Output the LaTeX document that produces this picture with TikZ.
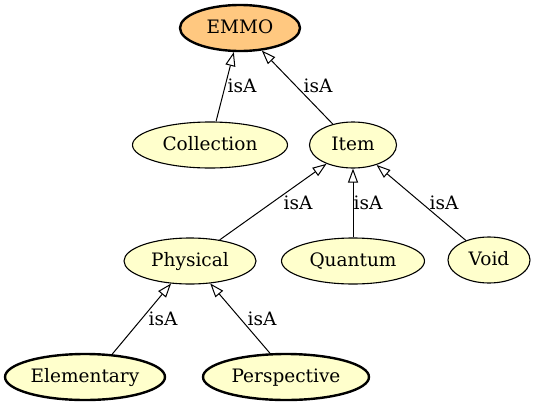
\documentclass[tikz,border=0pt]{standalone}
\usepackage{fontspec}
\setmainfont{DejaVu Serif}
\usetikzlibrary{shapes.geometric,arrows.meta}
\definecolor{emmofill}{HTML}{FFC880}
\definecolor{classfill}{HTML}{FFFFCC}
\tikzset{
  x=1pt,y=-1pt,
  cls/.style={ellipse,draw=black,fill=classfill,line width=1.1pt,inner sep=0pt,
    font=\fontsize{18.5}{20}\selectfont,text height=14pt,text depth=3pt},
  boldcls/.style={cls,line width=2.4pt},
  lbl/.style={font=\fontsize{18.5}{20}\selectfont,inner sep=0pt,text height=14pt,text depth=0pt},
  isa/.style={draw=black,line width=1pt,-{Triangle[open,length=14pt,width=10pt]}}
}
\begin{document}
\begin{tikzpicture}
\useasboundingbox (0,0) rectangle (535,407);
\node[boldcls,fill=emmofill,minimum width=120pt,minimum height=46pt] (emmo) at (240,28) {EMMO};
\node[cls,minimum width=155pt,minimum height=46pt] (collection) at (210,145) {Collection};
\node[cls,minimum width=87pt,minimum height=46pt] (item) at (353,145) {Item};
\node[cls,minimum width=132pt,minimum height=46pt] (physical) at (190,261) {Physical};
\node[cls,minimum width=143pt,minimum height=46pt] (quantum) at (353,261) {Quantum};
\node[cls,minimum width=82pt,minimum height=46pt] (void) at (489,260) {Void};
\node[boldcls,minimum width=160pt,minimum height=46pt] (elementary) at (85,377) {Elementary};
\node[boldcls,minimum width=166pt,minimum height=46pt] (perspective) at (286,377) {Perspective};

\draw[isa] (collection) -- (emmo);
\draw[isa] (item) -- (emmo);
\draw[isa] (physical) -- (item);
\draw[isa] (quantum) -- (item);
\draw[isa] (void) -- (item);
\draw[isa] (elementary.40) -- (physical.230);
\draw[isa] (perspective.124) -- (physical.312);

\node[lbl] (l1) at (242,85) {isA};
\node[lbl] (l2) at (318,85) {isA};
\node[lbl] (l3) at (298,202) {isA};
\node[lbl] (l4) at (368,202) {isA};
\node[lbl] (l5) at (444,202) {isA};
\node[lbl] (l6) at (163,318) {isA};
\node[lbl] (l7) at (262,318) {isA};
\end{tikzpicture}
\end{document}
